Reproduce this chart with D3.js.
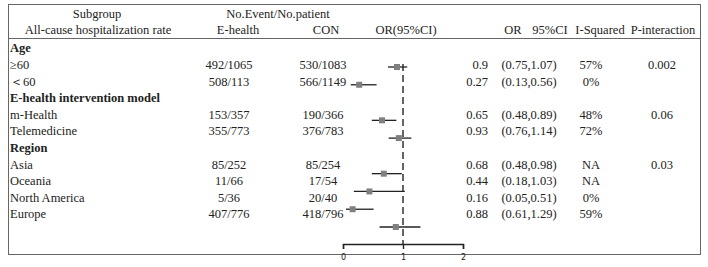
<!DOCTYPE html>
<html>
<head>
<meta charset="utf-8">
<script src="https://cdn.jsdelivr.net/npm/d3@7"></script>
<style>
  body { margin: 0; background: #fff; }
  svg text { font-family: "Liberation Serif", "Times New Roman", serif; font-size: 12.5px; fill: #222; }
</style>
</head>
<body>
<script>
// rows of the table
let labels = ['Age', '≥60', '＜60', 'E-health intervention model', 'm-Health', 'Telemedicine',
              'Region', 'Asia', 'Oceania', 'North America', 'Europe'];
let groupRows = [0, 3, 6]; // bold headings
let eHealth = ['', '492/1065', '508/113', '', '153/357', '355/773', '', '85/252', '11/66', '5/36', '407/776'];
let con = ['', '530/1083', '566/1149', '', '190/366', '376/783', '', '85/254', '17/54', '20/40', '418/796'];
let orVal = [null, 0.9, 0.27, null, 0.65, 0.93, null, 0.68, 0.44, 0.16, 0.88];
let ciLo = [null, 0.75, 0.13, null, 0.48, 0.76, null, 0.48, 0.18, 0.05, 0.61];
let ciHi = [null, 1.07, 0.56, null, 0.89, 1.14, null, 0.98, 1.03, 0.51, 1.29];
let iSq = ['', '57%', '0%', '', '48%', '72%', '', 'NA', 'NA', '0%', '59%'];
let pInt = ['', '0.002', '', '', '0.06', '', '', '0.03', '', '', ''];
let axisTicks = [0, 1, 2];

let svg = d3.select('body').append('svg')
  .attr('width', 708)
  .attr('height', 267);

// frame
svg.append('rect')
  .attr('x', 8.5).attr('y', 4.5)
  .attr('width', 692).attr('height', 250)
  .attr('fill', 'none').attr('stroke', '#666').attr('stroke-width', 1);
svg.append('line')
  .attr('x1', 8.5).attr('x2', 700.5).attr('y1', 38.5).attr('y2', 38.5)
  .attr('stroke', '#666');

// header
let headers = [
  { t: 'Subgroup', x: 97, y: 14 },
  { t: 'All-cause hospitalization rate', x: 98, y: 30 },
  { t: 'No.Event/No.patient', x: 278, y: 14 },
  { t: 'E-health', x: 238, y: 30 },
  { t: 'CON', x: 326, y: 30 },
  { t: 'OR(95%CI)', x: 406, y: 30 },
  { t: 'OR', x: 513, y: 30 },
  { t: '95%CI', x: 550, y: 30 },
  { t: 'I-Squared', x: 600, y: 30 },
  { t: 'P-interaction', x: 663, y: 30 }
];
svg.selectAll('text.head')
  .data(headers)
  .enter().append('text')
  .attr('class', 'head')
  .attr('x', d => d.x).attr('y', d => d.y)
  .attr('dy', '0.35em')
  .attr('text-anchor', 'middle')
  .text(d => d.t);

// text rows
let rowY = d3.scaleLinear().domain([0, 10]).range([48, 214]);
let idx = d3.range(labels.length);

svg.selectAll('text.lab')
  .data(idx)
  .enter().append('text')
  .attr('class', 'lab')
  .attr('x', 10)
  .attr('y', i => rowY(i))
  .attr('dy', '0.35em')
  .style('font-weight', i => groupRows.includes(i) ? 'bold' : 'normal')
  .text(i => labels[i]);

function column(arr, x, anchor) {
  svg.append('g').selectAll('text')
    .data(idx.filter(i => arr[i] !== '' && arr[i] !== null))
    .enter().append('text')
    .attr('x', x)
    .attr('y', i => rowY(i))
    .attr('dy', '0.35em')
    .attr('text-anchor', anchor)
    .text(i => arr[i]);
}
column(eHealth, 229, 'middle');
column(con, 323, 'middle');
column(orVal.map(v => v === null ? '' : String(v)), 488, 'end');
column(idx.map(i => orVal[i] === null ? '' : '(' + ciLo[i] + ',' + ciHi[i] + ')'), 529, 'middle');
column(iSq, 591, 'middle');
column(pInt, 662, 'middle');

// forest plot
let x = d3.scaleLinear().domain([0, 2]).range([343, 463]);
let fy = d3.scaleLinear().domain([1, 10]).range([67, 227]);
let est = idx.filter(i => orVal[i] !== null);

svg.append('line')
  .attr('x1', x(1)).attr('x2', x(1))
  .attr('y1', 64).attr('y2', 244)
  .attr('stroke', '#333').attr('stroke-width', 1.5)
  .attr('stroke-dasharray', '7,4');

svg.selectAll('line.ci')
  .data(est)
  .enter().append('line')
  .attr('class', 'ci')
  .attr('x1', i => x(ciLo[i])).attr('x2', i => x(ciHi[i]))
  .attr('y1', i => fy(i)).attr('y2', i => fy(i))
  .attr('stroke', '#222').attr('stroke-width', 1.3);

svg.selectAll('rect.pt')
  .data(est)
  .enter().append('rect')
  .attr('class', 'pt')
  .attr('x', i => x(orVal[i]) - 3)
  .attr('y', i => fy(i) - 3)
  .attr('width', 6).attr('height', 6)
  .attr('fill', '#808080');

let axis = svg.append('g')
  .attr('transform', 'translate(0,244)')
  .call(d3.axisBottom(x).tickValues(axisTicks).tickFormat(d3.format('d')).tickSize(5).tickPadding(5));
axis.select('.domain').attr('stroke', '#222').attr('stroke-width', 1.4);
axis.selectAll('.tick line').attr('stroke', '#222').attr('stroke-width', 1.4);
axis.selectAll('.tick text')
  .style('font-family', '"DejaVu Sans", sans-serif')
  .style('font-size', '8px')
  .attr('fill', '#999');
</script>
</body>
</html>
